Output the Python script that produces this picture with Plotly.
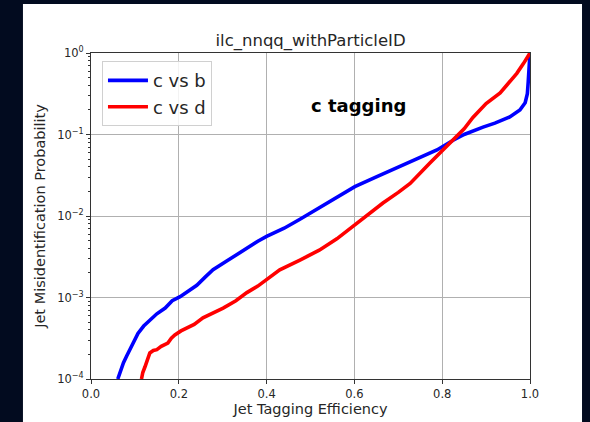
import numpy as np
import plotly.graph_objects as go

# Tagging efficiency vs. log10 of mistag probability for each background hypothesis
eff_c_vs_b = [0.061, 0.066, 0.074, 0.081, 0.089, 0.098, 0.107, 0.120, 0.134, 0.150,
              0.169, 0.185, 0.203, 0.222, 0.241, 0.260, 0.278, 0.310, 0.346, 0.380,
              0.400, 0.440, 0.476, 0.520, 0.560, 0.601, 0.650, 0.700, 0.750, 0.788,
              0.825, 0.850, 0.893, 0.920, 0.954, 0.977, 0.989, 0.994, 0.996, 0.998, 1.000]
log_mis_c_vs_b = [-4.00, -3.92, -3.80, -3.72, -3.64, -3.53, -3.44, -3.35, -3.28, -3.20,
                  -3.13, -3.04, -2.99, -2.92, -2.85, -2.75, -2.66, -2.55, -2.42, -2.31,
                  -2.25, -2.15, -2.04, -1.90, -1.77, -1.64, -1.52, -1.40, -1.28, -1.19,
                  -1.07, -1.00, -0.91, -0.86, -0.785, -0.70, -0.61, -0.50, -0.35, -0.15, 0.00]

eff_c_vs_d = [0.115, 0.118, 0.123, 0.128, 0.134, 0.142, 0.150, 0.160, 0.175, 0.183,
              0.191, 0.205, 0.218, 0.235, 0.255, 0.275, 0.301, 0.330, 0.355, 0.380,
              0.400, 0.430, 0.476, 0.520, 0.560, 0.601, 0.635, 0.665, 0.700, 0.727,
              0.772, 0.800, 0.825, 0.850, 0.870, 0.900, 0.932, 0.950, 0.970, 0.985,
              0.993, 1.000]
log_mis_c_vs_d = [-4.00, -3.92, -3.85, -3.76, -3.68, -3.65, -3.64, -3.60, -3.56, -3.50,
                  -3.46, -3.41, -3.37, -3.33, -3.25, -3.20, -3.13, -3.04, -2.94, -2.86,
                  -2.78, -2.66, -2.54, -2.42, -2.28, -2.11, -1.97, -1.84, -1.71, -1.60,
                  -1.35, -1.20, -1.07, -0.93, -0.79, -0.62, -0.49, -0.38, -0.25, -0.13,
                  -0.06, 0.00]

series_names = ["c vs b", "c vs d"]
series_colors = ["#0000ff", "#ff0000"]

x_ticks = [0.0, 0.2, 0.4, 0.6, 0.8, 1.0]
x_tick_text = ["0.0", "0.2", "0.4", "0.6", "0.8", "1.0"]
y_ticks = [1e-4, 1e-3, 1e-2, 1e-1, 1e0]
y_tick_text = ["10<sup>\u22124</sup>", "10<sup>\u22123</sup>", "10<sup>\u22122</sup>",
               "10<sup>\u22121</sup>", "10<sup>0</sup>"]

FONT = "DejaVu Sans"

fig = go.Figure()
for name, color, xs, ys in [
    (series_names[0], series_colors[0], eff_c_vs_b, log_mis_c_vs_b),
    (series_names[1], series_colors[1], eff_c_vs_d, log_mis_c_vs_d),
]:
    fig.add_trace(go.Scatter(
        x=xs, y=np.power(10.0, ys), mode="lines", name=name,
        line=dict(color=color, width=3.6),
    ))

# White figure panel on a dark page
fig.add_shape(type="rect", xref="paper", yref="paper",
              x0=-0.155, x1=1.1185, y0=-0.3, y1=1.150,
              fillcolor="white", line=dict(width=0), layer="below")

fig.add_annotation(text="<b>c tagging</b>", xref="paper", yref="paper",
                   x=0.61, y=0.878, showarrow=False,
                   font=dict(family=FONT, size=18, color="black"))

axis_common = dict(
    showline=True, linecolor="#333333", linewidth=1, mirror=True,
    ticks="outside", ticklen=4, tickcolor="#333333",
    showgrid=True, gridcolor="#b0b0b0", gridwidth=0.8, zeroline=False,
    tickfont=dict(family=FONT, size=11.5, color="#262626"),
)

fig.update_xaxes(
    range=[0, 1], tickvals=x_ticks, ticktext=x_tick_text,
    title=dict(text="Jet Tagging Efficiency", standoff=4,
               font=dict(family=FONT, size=14.5, color="#262626")),
    **axis_common,
)
fig.update_yaxes(
    type="log", range=[-4, 0], tickvals=y_ticks, ticktext=y_tick_text,
    title=dict(text="Jet Misidentification Probability", standoff=8,
               font=dict(family=FONT, size=14.5, color="#262626")),
    minor=dict(ticks="outside", ticklen=2, tickcolor="#333333", showgrid=False,
               dtick="D1"),
    **axis_common,
)

fig.update_layout(
    width=590, height=422,
    margin=dict(l=91, r=60, t=53, b=43, autoexpand=False),
    paper_bgcolor="#020b1f",
    plot_bgcolor="white",
    title=dict(text="ilc_nnqq_withParticleID", x=0.5264, xanchor="center",
               y=1 - 40 / 422, yanchor="middle",
               font=dict(family=FONT, size=16.5, color="#262626")),
    legend=dict(x=0.025, y=0.975, xanchor="left", yanchor="top",
                bgcolor="rgba(255,255,255,0.85)", bordercolor="#d0d0d0", borderwidth=1,
                font=dict(family=FONT, size=18, color="#262626"),
                tracegroupgap=0, itemwidth=40),
    showlegend=True,
)

fig.write_html("out.html")
